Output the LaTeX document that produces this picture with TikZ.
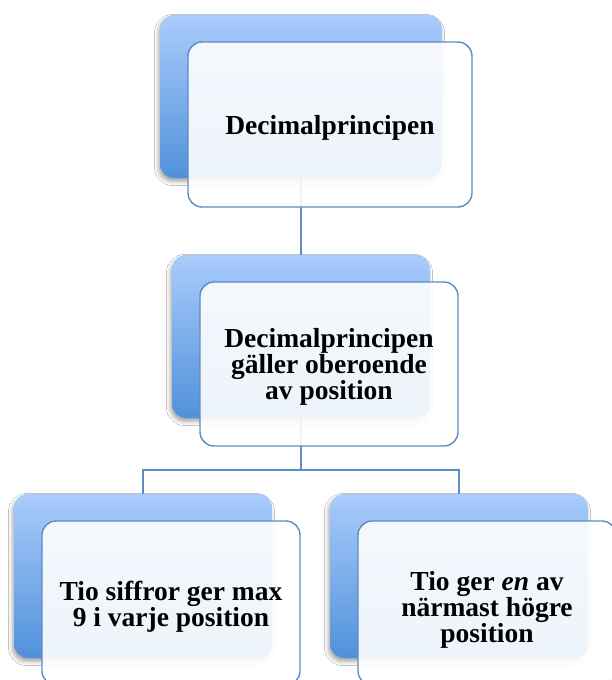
\documentclass[tikz,border=0pt]{standalone}
\usepackage{fontspec}
\setmainfont{Liberation Serif}
\usetikzlibrary{shadows.blur}
\definecolor{backtop}{HTML}{A9CCFB}
\definecolor{backbot}{HTML}{5191DA}
\definecolor{edgeblue}{HTML}{5B8CC4}
\tikzset{
  backbox/.style={rectangle, rounded corners=14pt, inner sep=0pt,
    top color=backtop, bottom color=backbot, draw=none,
    blur shadow={shadow xshift=-1.5pt, shadow yshift=-3.5pt, shadow blur radius=4pt, shadow opacity=35}},
  frontbox/.style={rectangle, rounded corners=14pt, inner sep=0pt,
    fill=white, fill opacity=0.9, draw=edgeblue, draw opacity=1, line width=1.4pt},
  boxtext/.style={inner sep=0pt, align=center, font=\bfseries\fontsize{27.5}{23}\selectfont},
  link/.style={draw=edgeblue, line width=1.4pt}
}
\begin{document}
\begin{tikzpicture}[x=1pt,y=-1pt]
\fill[white] (0,0) rectangle (611,680);
\useasboundingbox (0,0) rectangle (611,680);
% junction of the lower connectors
\coordinate (j) at (301,470);
% back boxes (named for connectors)
\path (301,96.5) node[backbox, minimum width=282pt, minimum height=163pt] (b1) {};
\path (301,336.5) node[backbox, minimum width=258pt, minimum height=163pt] (b2) {};
\path (143,576) node[backbox, minimum width=258pt, minimum height=164pt] (b3) {};
\path (459,576) node[backbox, minimum width=258pt, minimum height=164pt] (b4) {};
% connectors
\draw[link] (b1.south) -- (b2.north);
\draw[link] (b2.south) -- (j);
\draw[link] (b3.north) |- (j) -| (b4.north);
% front boxes
\path (330,124.5) node[frontbox, minimum width=284pt, minimum height=165pt] (f1) {};
\path (329,364) node[frontbox, minimum width=258pt, minimum height=164pt] (f2) {};
\path (171,603) node[frontbox, minimum width=258pt, minimum height=164pt] (f3) {};
\path (487,603) node[frontbox, minimum width=258pt, minimum height=164pt] (f4) {};
% texts
\node[boxtext] (t1) at ([yshift=-3pt]f1.center) {Decimalprincipen};
\node[boxtext] (t2) at ([yshift=-3pt]f2.center) {Decimalprincipen\\gäller oberoende\\av position};
\node[boxtext] (t3) at ([yshift=-4pt]f3.center) {Tio siffror ger max\\9 i varje position};
\node[boxtext] (t4) at ([yshift=-7pt]f4.center) {Tio ger \emph{en} av\\närmast högre\\position};
\end{tikzpicture}
\end{document}
